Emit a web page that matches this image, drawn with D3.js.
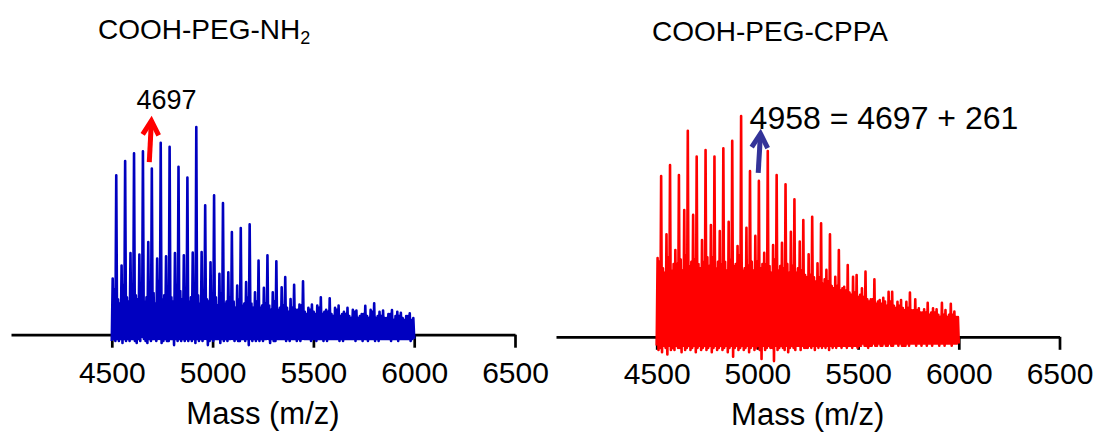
<!DOCTYPE html>
<html>
<head>
<meta charset="utf-8">
<script src="https://cdn.jsdelivr.net/npm/d3@7/dist/d3.min.js"></script>
<style>
body { margin:0; background:#fff; }
svg { display:block; font-family:"Liberation Sans", Arial, sans-serif; }
</style>
</head>
<body>
<svg id="chart" width="1099" height="435"></svg>
<script>
// m/z grid of both spectra (uniform sampling, 341 points)
var mzStart=4500, mzEnd=6000;
var axisDomain=[4000,6500];
var axisTicks=[4500,5000,5500,6000,6500];

// ---- COOH-PEG-NH2 (relative intensity, %) ----
// one entry per PEG repeat (44 Da)
var nh2Main=[76.8,83.6,87.3,88.3,80.0,92.4,90.5,80.8,75.7,100,62.3,67.1,63.4,49.4,51.4,53.1,35.7,
             38.2,35.3,27.7,24.0,25.7,14.5,18.0,17.5,14.0,12.9,11.6,13.9,15.1,11.6,11.9,10.5,10.3];
var nh2Second=[27,33.3,39.3,38.6,44.6,36.7,37.8,39.3,38.2,39.5,39.8,34.9,29.3,30.1,23.7,25.3,20.4,
               22.6,20.4,22.8,17.2,14.5,13,14,12,13,11,12,10,12,11,10,11,9];
var nh2Noise=[[22,17,15],[24,18,16],[21,19,17],[25,16,18],[23,20,15],[26,17,19],[22,18,16],[24,21,17],
              [20,16,18],[23,19,15],[21,17,16],[19,18,14],[20,15,16],[18,16,13],[17,14,15],[18,15,13],
              [16,13,14],[15,14,12],[16,12,13],[14,13,11],[13,12,12],[14,11,10],[12,11,10],[13,10,11],
              [11,10,9],[12,9,10],[10,9,8],[11,8,9],[10,9,8],[11,8,9],[9,8,8],[10,7,9],[9,8,7],[9,7,8]];
var nh2Valley=[[-3,-2,-3,-2,-3],[-2,-4,-2,-3,-2],[-3,-2,-2,-3,-4],[-2,-3,-1,-2,-3],[-4,-2,-3,-2,-2],
               [-3,-2,-2,-4,-3],[-2,-3,-3,-2,-2],[-5,-2,-3,-2,-3],[-2,-3,-2,-3,-2],[-3,-2,-4,-2,-3],
               [-2,-3,-2,-2,-5],[-3,-2,-3,-2,-2],[-2,-4,-2,-3,-2],[-3,-2,-2,-2,-3],[-2,-3,-3,-2,-2],
               [-3,-2,-5,-2,-3],[-2,-3,-2,-3,-2],[-3,-2,-2,-2,-4],[-2,-3,-3,-2,-2],[-2,-2,-2,-3,-2],
               [-3,-2,-2,-2,-3],[-2,-3,-2,-2,-2],[-2,-2,-3,-2,-2],[-3,-2,-2,-2,-3],[-2,-3,-2,-2,-2],
               [-2,-2,-2,-3,-2],[-3,-2,-2,-2,-2],[-2,-2,-3,-2,-2],[-2,-3,-2,-2,-3],[-2,-2,-2,-3,-2],
               [-3,-2,-2,-2,-2],[-2,-2,-3,-2,-2],[-2,-3,-2,-2,-2],[-2,-2,-2,-3,-2]];
var nh2Last=-2;

// ---- COOH-PEG-CPPA (relative intensity, %) ----
var cppaMain=[72.8,77.8,73.3,93.3,81.6,84.6,81.6,85.4,88.8,100,75.1,70.6,84.1,73.3,69.1,62.3,52.9,
              54.4,51.4,46.4,39.3,32.5,28.0,29.5,26.0,17.7,20.4,16.7,20.0,12.9,15.4,12.5,12.1,11.4];
var cppaSecond=[35.7,46.4,39.3,57.4,55.2,43.8,50.6,47.9,52.1,41.1,49.4,45.7,38.0,41.6,42.6,47.6,43.1,
                37.4,33.3,30.3,27.2,22.7,27.2,22.0,17.0,16.7,20.4,15.9,15.9,17.0,12.5,12.9,15.4,14.9];
var cppaNoise=[[34,31,29],[36,30,33],[33,35,30],[37,32,34],[35,33,31],[34,36,32],[36,31,34],[33,34,30],
               [35,32,33],[37,30,31],[32,34,30],[34,31,33],[33,32,29],[35,30,32],[31,33,29],[32,29,31],
               [30,28,27],[28,27,25],[27,24,26],[25,23,22],[23,21,22],[21,20,19],[20,18,19],[18,17,16],
               [17,15,16],[15,16,14],[16,14,13],[14,13,12],[13,12,12],[12,11,11],[11,10,11],[11,10,9],
               [10,9,10],[10,9,9]];
var cppaValley=[[-4,-6,-5,-7,-4],[-5,-8,-4,-6,-5],[-6,-4,-5,-5,-7],[-4,-6,-5,-4,-6],[-5,-4,-7,-5,-4],
                [-6,-5,-4,-6,-5],[-4,-7,-5,-4,-6],[-5,-4,-6,-5,-4],[-7,-5,-4,-9,-5],[-4,-6,-5,-4,-6],
                [-5,-4,-7,-5,-4],[-6,-5,-4,-6,-10],[-4,-6,-5,-4,-5],[-5,-11,-4,-6,-5],[-4,-5,-6,-4,-7],
                [-5,-4,-5,-6,-4],[-4,-6,-4,-5,-5],[-5,-4,-5,-4,-6],[-4,-5,-4,-5,-4],[-5,-4,-6,-4,-5],
                [-4,-5,-4,-4,-5],[-4,-4,-5,-4,-4],[-5,-4,-4,-5,-4],[-4,-3,-4,-4,-5],[-4,-4,-3,-4,-4],
                [-3,-4,-4,-3,-4],[-4,-3,-4,-4,-3],[-3,-4,-3,-4,-4],[-4,-3,-4,-3,-3],[-3,-4,-3,-3,-4],
                [-3,-3,-4,-3,-3],[-4,-3,-3,-3,-4],[-3,-3,-4,-3,-3],[-3,-4,-3,-3,-3]];
var cppaLast=-3;

// annotations (data units: m/z, intensity %)
var nh2Arrow={tipMz:4697, tailMz:4686, tip:103.9, tail:83.1, label:"4697"};
var cppaArrow={tipMz:5016, tailMz:5004, tip:92.9, tail:74.2, label:"4958 = 4697 + 261"};

function buildTrace(main, second, noise, valley, last) {
  var out=[];
  for(var k=0;k<main.length;k++) {
    var v=valley[k], n=noise[k];
    out.push(v[0], second[k], v[1], n[0], v[2], main[k], v[3], n[1], v[4], n[2]);
  }
  out.push(last);
  var step=(mzEnd-mzStart)/(out.length-1);
  return out.map(function(d,i) { return {mz: mzStart+i*step, y: d}; });
}

var svg=d3.select("#chart");

function drawArrow(g, x, y, a, color) {
  var x1=x(a.tailMz), y1=y(a.tail), x2=x(a.tipMz), y2=y(a.tip);
  var dx=x2-x1, dy=y2-y1, len=Math.sqrt(dx*dx+dy*dy);
  var ux=dx/len, uy=dy/len;     // along shaft
  var px=-uy, py=ux;            // perpendicular
  var hl=14, hw=8;
  var tipx=x2-ux*2, tipy=y2-uy*2;
  g.append("line")
    .attr("x1",x1).attr("y1",y1).attr("x2",tipx).attr("y2",tipy)
    .attr("stroke",color).attr("stroke-width",5);
  g.append("path")
    .attr("d","M"+(tipx-ux*hl+px*hw)+","+(tipy-uy*hl+py*hw)+
              "L"+tipx+","+tipy+
              "L"+(tipx-ux*hl-px*hw)+","+(tipy-uy*hl-py*hw))
    .attr("fill","none").attr("stroke",color).attr("stroke-width",5)
    .attr("stroke-linejoin","miter").attr("stroke-miterlimit",6);
}

function drawPanel(p) {
  var x=d3.scaleLinear().domain(axisDomain).range([p.x0,p.x1]);
  var y=d3.scaleLinear().domain([0,100]).range([p.axisY,p.topY]);
  var g=svg.append("g");

  var ax=g.append("g").attr("transform","translate(0,"+p.axisY+")")
     .call(d3.axisBottom(x).tickValues(axisTicks).tickFormat(d3.format("d"))
             .tickSize(13).tickSizeOuter(0));
  ax.select(".domain").attr("stroke","#000").attr("stroke-width",2.7);
  ax.selectAll(".tick line").attr("stroke","#000").attr("stroke-width",2.7);
  ax.selectAll(".tick text")
     .attr("y",p.tickLabelDy).attr("dy",0)
     .attr("fill","#000").style("font-size","30px")
     .style("font-family","'Liberation Sans', Arial, sans-serif");

  var line=d3.line().x(function(d){return x(d.mz);}).y(function(d){return y(d.y);});
  g.append("path").datum(p.trace)
    .attr("d",line)
    .attr("fill","none")
    .attr("stroke",p.color)
    .attr("stroke-width",2.6)
    .attr("stroke-linejoin","round");

  g.append("text")
    .attr("x",(p.x0+p.x1)/2).attr("y",p.xTitleY)
    .attr("text-anchor","middle").style("font-size","31px")
    .text("Mass (m/z)");

  var t=g.append("text").attr("x",p.titleX).attr("y",p.titleY).style("font-size","28px");
  t.append("tspan").text(p.title);
  if(p.sub) {
    t.append("tspan").attr("dy",5).style("font-size","18px").text(p.sub);
  }

  drawArrow(g, x, y, p.arrow, p.arrowColor);
  g.append("text")
    .attr("x",x(p.arrow.tipMz)+p.labelDx).attr("y",p.labelY)
    .style("font-size",p.labelSize)
    .text(p.arrow.label);
}

drawPanel({
  x0:11, x1:515, axisY:334.7, topY:127, tickLabelDy:48, xTitleY:424,
  color:"#0000c0", trace:buildTrace(nh2Main,nh2Second,nh2Noise,nh2Valley,nh2Last),
  title:"COOH-PEG-NH", sub:"2", titleX:98, titleY:39,
  arrow:nh2Arrow, arrowColor:"#ff0000", labelDx:-15, labelY:109, labelSize:"27px"
});

drawPanel({
  x0:556, x1:1059.5, axisY:336.8, topY:116, tickLabelDy:47, xTitleY:425,
  color:"#ff0000", trace:buildTrace(cppaMain,cppaSecond,cppaNoise,cppaValley,cppaLast),
  title:"COOH-PEG-CPPA", sub:null, titleX:652, titleY:41,
  arrow:cppaArrow, arrowColor:"#333399", labelDx:-11, labelY:129, labelSize:"32px"
});
</script>
</body>
</html>
